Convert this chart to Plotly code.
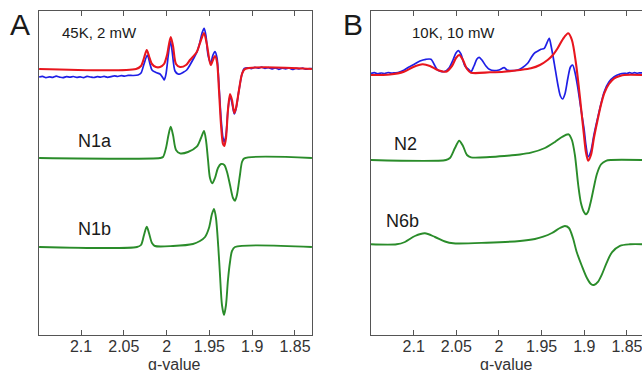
import plotly.graph_objects as go

# ---------------- Data (g-value, intensity in arbitrary units) ----------------
# Panel A, 45K 2 mW: experimental (blue) and simulation (red)
gA_exp = [2.149, 2.145, 2.141, 2.137, 2.133, 2.129, 2.125, 2.121, 2.117, 2.113, 2.109,
          2.105, 2.101, 2.097, 2.093, 2.089, 2.085, 2.081, 2.077, 2.073, 2.069, 2.065,
          2.061, 2.057, 2.053, 2.049, 2.045, 2.0393, 2.0334, 2.0299, 2.0264, 2.0225,
          2.0194, 2.0171, 2.0124, 2.0077, 2.0042, 2.0027, 2.0007, 1.9980, 1.9957,
          1.9937, 1.9902, 1.9867, 1.9843, 1.9808, 1.9765, 1.9727, 1.9688, 1.9645,
          1.9610, 1.9586, 1.9561, 1.9540, 1.9516, 1.9485, 1.9458, 1.9435, 1.9411,
          1.9388, 1.9364, 1.9341, 1.9326, 1.9306, 1.9283, 1.9259, 1.9236, 1.9209,
          1.9189, 1.9154, 1.9119, 1.9092, 1.905, 1.901, 1.897, 1.893, 1.889, 1.885,
          1.881, 1.877, 1.873, 1.869, 1.865, 1.861, 1.857, 1.853, 1.849, 1.845,
          1.841, 1.837, 1.833, 1.8302]
iA_exp = [-8.0, -7.4, -8.6, -7.8, -8.3, -7.2, -8.1, -8.7, -7.6, -8.2, -7.5,
          -8.4, -7.9, -8.6, -7.3, -8.0, -8.5, -7.7, -8.2, -7.4, -8.3, -7.6,
          -6.9, -7.5, -6.6, -7.2, -6.4, -6.5, -6.0, -4.0, 5.0, 14.0,
          5.0, -1.0, -3.5, -5.0, -9.0, -11.0, -5.0, 14.0, 28.0,
          19.0, -2.0, -5.0, -5.0, -3.5, -1.0, 4.0, 10.0, 17.0,
          27.0, 36.0, 40.7, 33.0, 14.0, 6.0, 14.0, 17.3, 11.0,
          -16.0, -49.0, -69.0, -73.0, -66.0, -41.0, -27.0, -34.0, -45.0,
          -40.0, -21.0, -5.0, 0.5, 1.2, 0.4, 1.6, 0.8, 1.9, 0.6,
          1.3, 0.2, 1.1, -0.3, 0.9, 0.1, 1.0, -0.4, 0.6, 0.2,
          0.8, -0.2, 0.5, 0.3]

gA_sim = [2.149, 2.0357, 2.0299, 2.0264, 2.0232, 2.0206, 2.0171, 2.0124, 2.0077, 2.0030,
          1.9995, 1.9952, 1.9925, 1.9890, 1.9843, 1.9773, 1.9727, 1.9648, 1.9598, 1.9563,
          1.9528, 1.9485, 1.9458, 1.9435, 1.9411, 1.9388, 1.9364, 1.9341, 1.9326, 1.9306,
          1.9283, 1.9259, 1.9236, 1.9209, 1.9189, 1.9154, 1.9119, 1.9084, 1.8302]
iA_sim = [0, 0, 3, 11, 19, 13, 5, 2, 2, 5,
          14, 32, 23, 5, 2, 4, 9, 17, 29, 36,
          24, 4, 9, 13, 7, -21, -56, -75, -77, -69,
          -41, -25, -31, -44, -39, -21, -5, 0, 0]

# N1a component
gN1a = [2.149, 2.0077, 2.0042, 2.0007, 1.9978, 1.9952, 1.9925, 1.9890, 1.9843, 1.9750,
        1.9648, 1.9598, 1.9563, 1.9540, 1.9516, 1.9493, 1.9466, 1.9435, 1.9400, 1.9364,
        1.9326, 1.9294, 1.9259, 1.9224, 1.9201, 1.9178, 1.9143, 1.9119, 1.9092, 1.8302]
iN1a = [0, 0, 1, 10, 23, 31.3, 23, 8, 4.7, 6,
        11.3, 20, 27, 18, -2, -20, -25.3, -20, -10, -6,
        -7, -14, -27, -40, -42.7, -37, -17, -4, -0.3, 0]

# N1b component
gN1b = [2.149, 2.0346, 2.0299, 2.0264, 2.0232, 2.0206, 2.0171, 2.0136, 1.9925, 1.9692,
        1.9610, 1.9551, 1.9505, 1.9470, 1.9446, 1.9423, 1.9396, 1.9376, 1.9353, 1.9329,
        1.9306, 1.9283, 1.9259, 1.9236, 1.9201, 1.8302]
iN1b = [0, 0, 2, 12, 20.3, 14, 4, 1, 1, 3,
        6, 10, 19, 33, 38, 29, 0, -28, -58, -68,
        -58, -33, -15, -4, 0, 0]

# Panel B, 10K 10 mW: experimental (blue) and simulation (red)
gB_exp = [2.150, 2.146, 2.142, 2.138, 2.134, 2.130, 2.126, 2.122, 2.1184, 2.1110,
          2.1055, 2.0993, 2.0926, 2.0856, 2.0797, 2.0762, 2.0719, 2.0641, 2.0586, 2.0539,
          2.0504, 2.0477, 2.0446, 2.0399, 2.0348, 2.0328, 2.0293, 2.0258, 2.0231, 2.0200,
          2.0153, 2.0114, 2.0055, 2.0000, 1.9938, 1.9907, 1.9860, 1.9781, 1.9731, 1.9664,
          1.9625, 1.9587, 1.9543, 1.9508, 1.9469, 1.9438, 1.9411, 1.9391, 1.9352, 1.9309,
          1.9280, 1.9254, 1.9227, 1.9192, 1.9162, 1.9137, 1.9110, 1.9078, 1.9051, 1.9028,
          1.9001, 1.8981, 1.8954, 1.8922, 1.8887, 1.8844, 1.8805, 1.8766, 1.8711, 1.8649,
          1.8582, 1.8532, 1.850, 1.847, 1.844, 1.841, 1.838, 1.835, 1.8300]
iB_exp = [1.5, 2.3, 1.2, 2.0, 1.4, 2.5, 1.8, 2.2, 2.5, 5.0,
          8.0, 10.7, 14.0, 15.7, 15.7, 11.0, 5.0, 3.3, 7.0, 15.0,
          22.0, 24.3, 21.0, 9.0, 5.0, 3.3, 9.0, 16.0, 17.7, 15.0,
          9.0, 5.7, 4.3, 5.0, 7.3, 5.0, 4.3, 5.0, 7.0, 11.7,
          17.0, 21.7, 24.0, 25.7, 26.7, 32.0, 36.7, 30.0, 11.7, -10.0,
          -21.0, -24.0, -19.0, -3.0, 8.0, 10.0, 3.0, -11.7, -27.0, -40.0,
          -55.0, -70.0, -81.7, -76.0, -60.0, -43.3, -29.0, -16.7, -7.0, -1.7,
          1.0, 1.7, 1.5, 2.3, 1.6, 2.4, 1.7, 2.2, 1.8]

gB_sim = [2.150, 2.1278, 2.1114, 2.1004, 2.0895, 2.0809, 2.0719, 2.0621, 2.0551, 2.0504,
          2.0466, 2.0422, 2.0375, 2.0328, 2.0106, 1.9942, 1.9754, 1.9625, 1.9520, 1.9430,
          1.9368, 1.9312, 1.9250, 1.9188, 1.9145, 1.9098, 1.9063, 1.9039, 1.9004, 1.8981,
          1.8954, 1.8922, 1.8887, 1.8844, 1.8805, 1.8766, 1.8711, 1.8649, 1.8582, 1.8532,
          1.8300]
iB_sim = [0, 0.5, 3.3, 8, 10.7, 9, 5, 3.3, 9, 17,
          20, 15, 6, 2.3, 2.7, 3.3, 5, 6.7, 10, 15,
          20, 26.7, 36, 41.7, 35, 12, -13, -32, -60, -77,
          -85.7, -80, -63, -45, -30, -18.3, -9, -3.3, -1, 0,
          0]

# N2 component
gN2 = [2.150, 2.0621, 2.0575, 2.0516, 2.0466, 2.0422, 2.0375, 2.0328, 2.0106, 1.9938,
       1.9754, 1.9625, 1.9461, 1.9344, 1.9262, 1.9184, 1.9145, 1.9110, 1.9071, 1.9039,
       1.9004, 1.8981, 1.8957, 1.8922, 1.8887, 1.8852, 1.8805, 1.8746, 1.8688, 1.8300]
iN2 = [0, 0, 2, 12, 19.3, 14, 5, 2.7, 3, 4,
       5.5, 7.3, 12, 18, 23, 25.7, 20, 5, -25, -43,
       -52, -54.3, -52, -41, -27, -14, -4.5, -0.8, 0, 0]

# N6b component
gN6b = [2.150, 2.1199, 2.1102, 2.0985, 2.0868, 2.0750, 2.0633, 2.0536, 2.0145, 1.9754,
        1.9578, 1.9481, 1.9379, 1.9285, 1.9227, 1.9180, 1.9133, 1.9090, 1.9028, 1.8969,
        1.8922, 1.8887, 1.8840, 1.8793, 1.8738, 1.8676, 1.8582, 1.8465, 1.8300]
iN6b = [0, 0, 2.3, 8.3, 11, 7.3, 2.8, 1, 1.6, 3.3,
        5.3, 7.6, 11.3, 16.3, 18.3, 16.3, 6.3, -7.4, -21.7, -33.7,
        -39.7, -40.7, -37.5, -30, -18.5, -8, -1.5, 0, 0]

tick_vals = [2.1, 2.05, 2.0, 1.95, 1.9, 1.85]
tick_text = ["2.1", "2.05", "2", "1.95", "1.9", "1.85"]

# ---------------- Styling / layout ----------------
# Page margin removed via post_script; figure slightly wider than the window so
# panel B runs past the right edge, as in the reference.
W, H = 652, 370
TOP, BOT = 11, 335          # plot area top / bottom in pixels
PH = BOT - TOP
RED, BLUE, GREEN = "#e8161e", "#1f1fe6", "#2a8c2a"
AXC = "#555555"
FONT = "Arial, Liberation Sans, sans-serif"

# vertical offsets of the stacked traces (in y-axis units)
offA = {"top": 266, "n1a": 177, "n1b": 88}
offB = {"top": 260, "n2": 175, "n6b": 90.7}

def shift(vals, off):
    return [v + off for v in vals]

fig = go.Figure()

def add(x, y, color, width, xa, ya):
    fig.add_trace(go.Scatter(x=x, y=y, mode="lines", xaxis=xa, yaxis=ya,
                             line=dict(color=color, width=width, shape="spline", smoothing=0.8),
                             hoverinfo="skip", showlegend=False))

add(gA_exp, shift(iA_exp, offA["top"]), BLUE, 1.7, "x", "y")
add(gA_sim, shift(iA_sim, offA["top"]), RED, 2.1, "x", "y")
add(gN1a, shift(iN1a, offA["n1a"]), GREEN, 1.9, "x", "y")
add(gN1b, shift(iN1b, offA["n1b"]), GREEN, 1.9, "x", "y")

add(gB_exp, shift(iB_exp, offB["top"]), BLUE, 1.7, "x2", "y2")
add(gB_sim, shift(iB_sim, offB["top"]), RED, 2.1, "x2", "y2")
add(gN2, shift(iN2, offB["n2"]), GREEN, 1.9, "x2", "y2")
add(gN6b, shift(iN6b, offB["n6b"]), GREEN, 1.9, "x2", "y2")

xcommon = dict(tickmode="array", tickvals=tick_vals, ticktext=tick_text,
               ticks="inside", ticklen=5, tickwidth=1.2, tickcolor=AXC,
               showline=True, linecolor=AXC, linewidth=1.4, mirror="ticks",
               showgrid=False, zeroline=False, automargin=False,
               ticklabelstandoff=-3,
               tickfont=dict(family=FONT, size=16, color="#333333"))
ycommon = dict(range=[0, 324], showticklabels=False, ticks="", showgrid=False,
               zeroline=False, showline=True, linecolor=AXC, linewidth=1.4, automargin=False)

fig.update_layout(
    width=W, height=H,
    margin=dict(l=0, r=0, t=TOP, b=H - BOT, autoexpand=False),
    paper_bgcolor="white", plot_bgcolor="white",
    xaxis=dict(domain=[39 / W, 312 / W], range=[2.1491, 1.8301], anchor="y", **xcommon),
    yaxis=dict(domain=[0, 1], anchor="x", mirror=True, **ycommon),
    xaxis2=dict(domain=[371 / W, 644 / W], range=[2.150, 1.8300], anchor="y2", **xcommon),
    yaxis2=dict(domain=[0, 1], anchor="x2", mirror=False, **ycommon),
)

def px(xs):
    return xs / W

def py(ys):
    return (BOT - ys) / PH

labels = [
    ("A", 20, 25, 30), ("B", 353, 25, 30),
    ("45K, 2 mW", 99.5, 33, 15), ("10K, 10 mW", 453, 33, 15),
    ("N1a", 94.5, 141, 18), ("N1b", 94, 229, 18),
    ("N2", 405, 144, 18), ("N6b", 402.5, 221, 18),
    ("g-value", 174, 364, 16), ("g-value", 506, 364, 16),
]
for text, xs, ys, size in labels:
    fig.add_annotation(text=text, xref="paper", yref="paper", x=px(xs), y=py(ys),
                       xanchor="center", yanchor="middle", showarrow=False,
                       font=dict(family=FONT, size=size, color="#1a1a1a" if size != 16 else "#333333"))

page_js = ("document.body.style.margin='0px';"
           "document.body.style.overflow='hidden';"
           "document.documentElement.style.overflow='hidden';")

fig.write_html("out.html", post_script=page_js, config={"displayModeBar": False})
